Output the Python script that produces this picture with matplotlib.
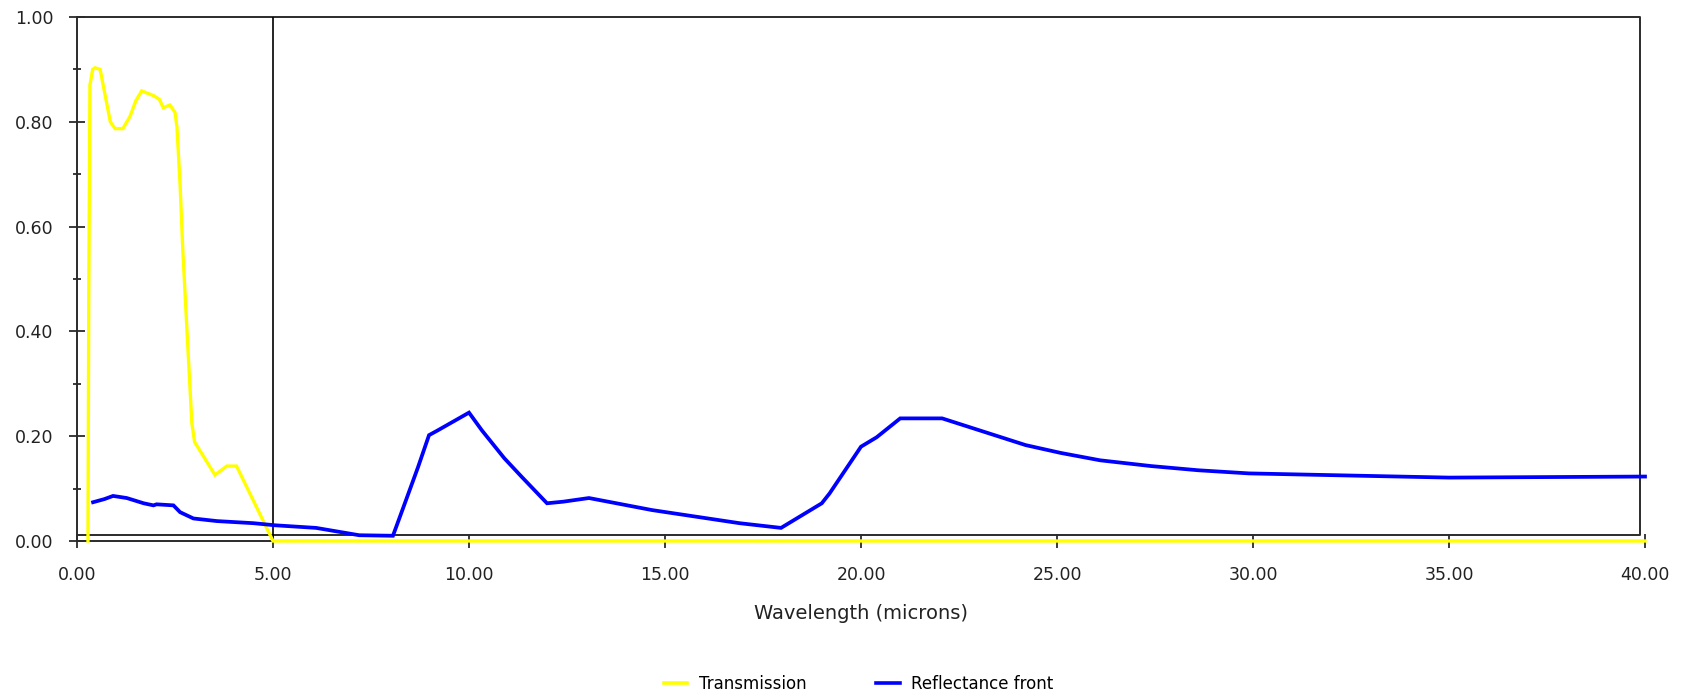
import matplotlib
matplotlib.use("Agg")
import matplotlib.pyplot as plt
from matplotlib.lines import Line2D
from matplotlib.ticker import MultipleLocator, FormatStrFormatter

# transmission curve (yellow)
trans_x = [0.28, 0.30, 0.33, 0.40, 0.46, 0.59, 0.72, 0.85, 0.97, 1.17, 1.35, 1.5,
           1.65, 1.95, 2.1, 2.2, 2.37, 2.5, 2.55, 2.63, 2.7, 2.8, 2.93, 3.0,
           3.52, 3.82, 4.07, 5.0, 40.0]
trans_y = [0.0, 0.46, 0.87, 0.90, 0.903, 0.90, 0.85, 0.80, 0.787, 0.787, 0.81, 0.84,
           0.859, 0.85, 0.843, 0.827, 0.832, 0.818, 0.79, 0.68, 0.554, 0.41, 0.225, 0.189,
           0.126, 0.143, 0.143, 0.0, 0.0]

# front reflectance curve (blue)
refl_x = [0.41, 0.7, 0.92, 1.27, 1.7, 1.95, 2.03, 2.46, 2.63, 2.97, 3.57, 4.5,
          5.05, 6.1, 7.2, 8.06, 8.3, 8.7, 8.98, 9.2, 10.0, 10.33, 10.9, 11.35,
          11.99, 12.4, 13.06, 14.67, 16.9, 17.96, 19.0, 19.2, 20.0, 20.4, 21.0,
          22.07, 24.2, 25.1, 26.1, 27.4, 28.6, 29.9, 31.8, 35.0, 40.0]
refl_y = [0.074, 0.08, 0.086, 0.082, 0.072, 0.068, 0.07, 0.068, 0.055, 0.043, 0.038, 0.034,
          0.03, 0.025, 0.011, 0.01, 0.059, 0.141, 0.202, 0.211, 0.245, 0.211, 0.158, 0.122,
          0.072, 0.075, 0.082, 0.059, 0.034, 0.025, 0.072, 0.091, 0.18, 0.198, 0.234,
          0.234, 0.183, 0.168, 0.154, 0.143, 0.135, 0.129, 0.126, 0.121, 0.123]

x_ticks = [0, 5, 10, 15, 20, 25, 30, 35, 40]
y_ticks = [0.0, 0.2, 0.4, 0.6, 0.8, 1.0]

plt.rcParams['font.family'] = ['DejaVu Sans']

W, H = 1684, 696
fig = plt.figure(figsize=(W / 100, H / 100), dpi=100)
ax = fig.add_axes([77 / W, 1 - 541 / H, (1645 - 77) / W, (541 - 17) / H])

edge = '#2b2b2b'
txt = '#222222'
for s in ['top', 'right']:
    ax.spines[s].set_visible(False)
for s in ['left', 'bottom']:
    ax.spines[s].set_color(edge)
    ax.spines[s].set_linewidth(1.4)

# inner plot box
box_r, box_b = 39.87, 0.0114
ax.plot([0, box_r, box_r, 0], [1.0, 1.0, box_b, box_b], color=edge, lw=1.4,
        clip_on=False, zorder=2)
ax.axvline(5, color='black', lw=1.2, zorder=2)

ax.plot(trans_x, trans_y, color='#ffff00', lw=2.4, zorder=3, clip_on=False,
        solid_joinstyle='miter')
ax.plot(refl_x, refl_y, color='#0000ff', lw=2.7, zorder=4, clip_on=False,
        solid_joinstyle='miter')

ax.set_xlim(0, 40)
ax.set_ylim(0, 1.0)
ax.set_xticks(x_ticks)
ax.set_yticks(y_ticks)
ax.yaxis.set_minor_locator(MultipleLocator(0.1))
ax.xaxis.set_major_formatter(FormatStrFormatter('%.2f'))
ax.yaxis.set_major_formatter(FormatStrFormatter('%.2f'))

ax.tick_params(axis='y', which='major', direction='inout', length=11, width=1.3,
               color=edge, labelsize=12.5, labelcolor=txt, pad=11.5)
ax.tick_params(axis='y', which='minor', direction='inout', length=6, width=1.3,
               color=edge)
ax.tick_params(axis='x', which='major', direction='inout', length=10, width=1.3,
               color=edge, labelsize=12.5, labelcolor=txt, pad=13)

ax.set_xlabel('Wavelength (microns)', fontsize=14, color=txt, labelpad=14.5)

handles = [Line2D([], [], color='#ffff00', lw=2.6),
           Line2D([], [], color='#0000ff', lw=2.6)]
fig.legend(handles, ['Transmission', 'Reflectance front'], loc='center',
           bbox_to_anchor=(858.5 / W, 1 - 684 / H), ncol=2, frameon=False,
           fontsize=12, handlelength=1.4, handletextpad=0.7, columnspacing=4.2)

fig.savefig('out.png', dpi=100, facecolor='white')
